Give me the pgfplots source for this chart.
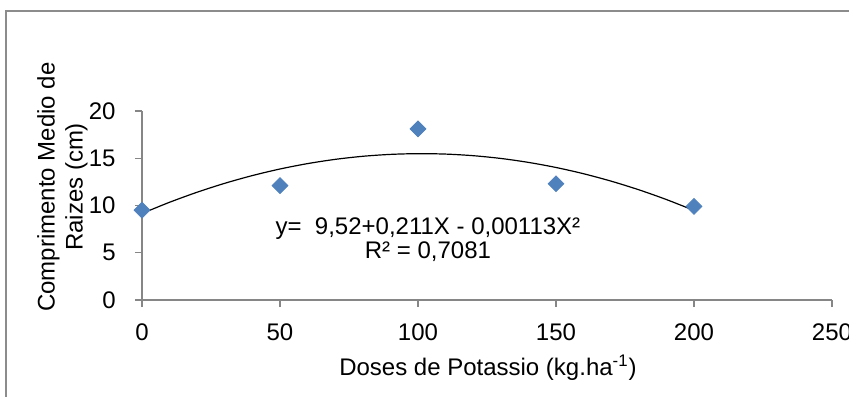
\documentclass[border=0pt]{standalone}
\usepackage{fontspec}
\setmainfont{Liberation Sans}
\usepackage{pgfplots}
\pgfplotsset{compat=1.18}
\definecolor{markblue}{HTML}{4F81BD}
\definecolor{axgray}{HTML}{868686}
\definecolor{framegray}{HTML}{8C8C8C}
\begin{document}
\fontsize{12bp}{14bp}\selectfont
\begin{tikzpicture}
\draw[framegray, line width=0.8bp] (-68bp,-60bp) rectangle (365bp,144.5bp);
\begin{axis}[
  scale only axis, width=345bp, height=94.5bp,
  xmin=0, xmax=250, ymin=0, ymax=20,
  axis lines*=left,
  axis line style={axgray, line width=0.6bp},
  xtick={0,50,...,250}, ytick={0,5,...,20},
  tick style={axgray, line width=0.6bp},
  tick align=outside, major tick length=3.5bp,
  /pgf/number format/assume math mode=true,
  tick label style={font=\fontsize{12bp}{14bp}\selectfont, text=black},
  xticklabel style={yshift=-4bp},
  yticklabel style={xshift=-5.5bp},
  xlabel={Doses de Potassio (kg.ha\textsuperscript{-1})},
  ylabel={Comprimento Medio de\\Raizes (cm)},
  label style={font=\fontsize{12bp}{14bp}\selectfont},
  xlabel style={at={(axis description cs:0.5014,-0.397)}, anchor=base},
  ylabel style={at={(axis description cs:-0.1152,0.598)}, anchor=center, align=center},
  clip=false,
]
\addplot[black, line width=0.6bp, smooth] coordinates {
 (0,9.155) (10,10.343) (20,11.408) (30,12.350) (40,13.168) (50,13.863)
 (60,14.434) (70,14.883) (80,15.207) (90,15.408) (100,15.486) (110,15.440)
 (120,15.271) (130,14.979) (140,14.562) (150,14.023) (160,13.360)
 (170,12.574) (180,11.664) (190,10.631) (200,9.475)
};
\addplot[only marks, mark=square*, mark size=2.8bp, mark options={rotate=45, fill=markblue, draw=markblue}] coordinates {
 (0,9.5) (50,12.1) (100,18.1) (150,12.3) (200,9.9)
};
\node[anchor=base] at (axis cs:103.6,6.88) {y=\ \ 9,52+0,211X - 0,00113X²};
\node[anchor=base] at (axis cs:103.6,4.44) {R² = 0,7081};
\end{axis}
\pgfresetboundingbox
\useasboundingbox (-71bp,-48.5bp) rectangle (353.5bp,150bp);
\end{tikzpicture}
\end{document}
